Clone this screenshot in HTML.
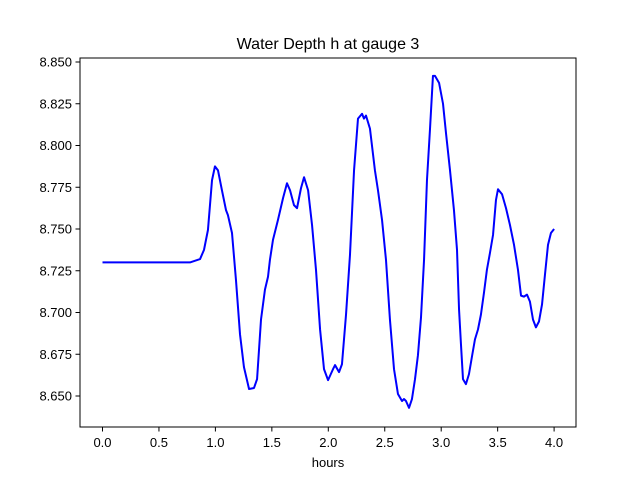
<!DOCTYPE html>
<html><head><meta charset="utf-8"><style>
body{margin:0;background:#fff}
svg{display:block;font-family:"Liberation Sans","DejaVu Sans",sans-serif}
</style></head><body>
<svg id="chart" width="640" height="480" viewBox="0 0 640 480">
<rect width="640" height="480" fill="#fff"/>
<text x="328" y="49" text-anchor="middle" font-size="16">Water Depth h at gauge 3</text>
<g id="xticks"></g>
<g id="yticks"></g>
<path id="line" fill="none" stroke="#0000ff" stroke-width="2" stroke-linejoin="round"/>
<rect x="80" y="58" width="496" height="369" fill="none" stroke="#000" stroke-width="1"/>
<text x="328" y="467" text-anchor="middle" font-size="13">hours</text>
</svg>
<script>
const xTickValues=[0,0.5,1,1.5,2,2.5,3,3.5,4];
const xTickLabels=["0.0","0.5","1.0","1.5","2.0","2.5","3.0","3.5","4.0"];
const yTickValues=[8.65,8.675,8.7,8.725,8.75,8.775,8.8,8.825,8.85];
const yTickLabels=["8.650","8.675","8.700","8.725","8.750","8.775","8.800","8.825","8.850"];
const hours=[0,0.775,0.864,0.899,0.934,0.97,0.996,1.023,1.058,1.094,1.111,1.147,1.182,1.218,1.253,1.298,1.342,1.369,1.404,1.439,1.466,1.483,1.51,1.554,1.599,1.634,1.661,1.696,1.723,1.758,1.785,1.821,1.856,1.891,1.927,1.962,1.998,2.042,2.06,2.095,2.121,2.157,2.192,2.228,2.263,2.299,2.316,2.334,2.369,2.413,2.44,2.476,2.511,2.546,2.582,2.617,2.653,2.67,2.688,2.715,2.741,2.768,2.794,2.821,2.848,2.874,2.901,2.927,2.945,2.981,3.016,3.043,3.078,3.113,3.14,3.158,3.175,3.193,3.219,3.246,3.273,3.299,3.326,3.352,3.379,3.405,3.432,3.459,3.485,3.503,3.539,3.574,3.609,3.645,3.68,3.707,3.733,3.76,3.786,3.813,3.839,3.866,3.893,3.919,3.946,3.972,4.0];
const depth=[8.730,8.730,8.732,8.7375,8.7494,8.7792,8.7875,8.7851,8.7732,8.7613,8.7583,8.7476,8.7196,8.6869,8.6673,8.6542,8.6548,8.6601,8.6958,8.7137,8.7214,8.7315,8.7435,8.7554,8.7685,8.7774,8.7732,8.7643,8.7625,8.7744,8.781,8.7732,8.7524,8.7256,8.6899,8.6661,8.6595,8.6661,8.6685,8.6643,8.669,8.6988,8.7345,8.7851,8.8161,8.819,8.8161,8.8179,8.8101,8.7851,8.7732,8.7554,8.7315,8.6958,8.6661,8.6512,8.647,8.6482,8.647,8.6429,8.6482,8.6601,8.6744,8.697,8.7315,8.7792,8.8101,8.8417,8.8417,8.8375,8.825,8.8071,8.7851,8.7613,8.7375,8.7018,8.681,8.6601,8.6571,8.6631,8.6738,8.6839,8.6899,8.6988,8.7119,8.7256,8.7357,8.7464,8.7673,8.7738,8.7708,8.7625,8.7524,8.7405,8.7256,8.7101,8.7095,8.7107,8.7065,8.6958,8.6911,8.6946,8.7048,8.7226,8.7405,8.7476,8.75];
const NS="http://www.w3.org/2000/svg";
function xs(t){return 102.5+t*112.9;}
function ys(v){return 62+(8.85-v)*1670;}
const xg=document.getElementById('xticks'),yg=document.getElementById('yticks');
xTickValues.forEach((t,i)=>{
 const l=document.createElementNS(NS,'line');
 
 
 l.setAttribute('x1',xs(t));l.setAttribute('x2',xs(t));l.setAttribute('y1',427);l.setAttribute('y2',431.5);l.setAttribute('stroke','#000');
 xg.appendChild(l);
 const tx=document.createElementNS(NS,'text');
 
 
 tx.setAttribute('x',xs(t));tx.setAttribute('y',447);tx.setAttribute('text-anchor','middle');tx.setAttribute('font-size','13');
 tx.textContent=xTickLabels[i];xg.appendChild(tx);
});
yTickValues.forEach((v,i)=>{
 const l=document.createElementNS(NS,'line');
 
 
 l.setAttribute('x1',75.5);l.setAttribute('x2',80);l.setAttribute('y1',ys(v));l.setAttribute('y2',ys(v));l.setAttribute('stroke','#000');
 yg.appendChild(l);
 const tx=document.createElementNS(NS,'text');
 
 
 tx.setAttribute('x',72);tx.setAttribute('y',ys(v)+4.5);tx.setAttribute('text-anchor','end');tx.setAttribute('font-size','13');
 tx.textContent=yTickLabels[i];yg.appendChild(tx);
});
let d='';
hours.forEach((t,i)=>{d+=(i?'L':'M')+xs(t).toFixed(2)+','+ys(depth[i]).toFixed(2);});
document.getElementById('line').setAttribute('d',d);
</script>
</body></html>
